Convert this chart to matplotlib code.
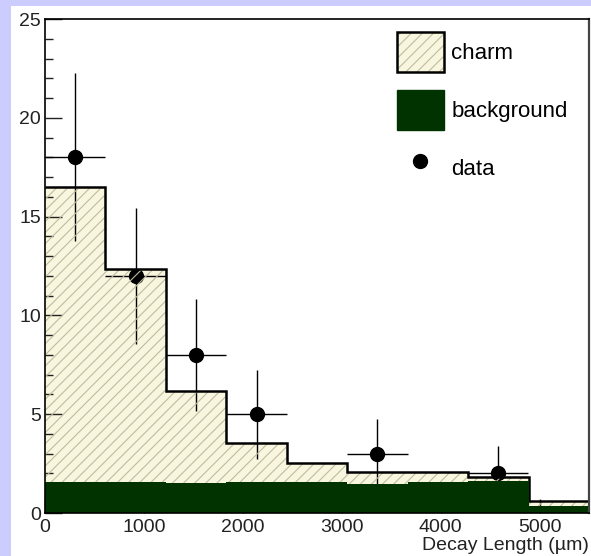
import numpy as np
import matplotlib.pyplot as plt
from matplotlib.patches import Patch, Rectangle
from matplotlib.lines import Line2D
from matplotlib.legend_handler import HandlerTuple

plt.rcParams['font.family'] = ['Liberation Sans', 'DejaVu Sans']
plt.rcParams['hatch.linewidth'] = 0.8

# histogram binning (9 bins over 0-5500 um)
edges = np.linspace(0, 5500, 10)
# stacked contributions
background = np.array([1.55, 1.55, 1.50, 1.55, 1.55, 1.45, 1.55, 1.63, 0.35])
charm = np.array([14.95, 10.80, 4.65, 2.00, 1.00, 0.65, 0.50, 0.20, 0.25])

# data points
data_x = [305, 916, 1528, 2139, 3361, 4583]
data_y = [18, 12, 8, 5, 3, 2]
data_yerr = [4.25, 3.45, 2.85, 2.25, 1.75, 1.40]
data_xerr = [305, 305, 305, 305, 305, 305]

total = background + charm
hatch_col = '#bebca0'
charm_col = '#f8f6de'
bkg_col = '#003300'

fig = plt.figure(figsize=(5.91, 5.56), dpi=100, facecolor='#ccccff')
# white pad like the ROOT canvas
fig.patches.append(Rectangle((11/591, 0), 1, 1 - 6/556, transform=fig.transFigure,
                             facecolor='white', edgecolor='none', zorder=-5))
ax = fig.add_axes([45/591, 43/556, 544/591, 494/556])
ax.set_facecolor('white')

ax.stairs(total, edges, fill=True, color=charm_col, zorder=1)
ax.errorbar(data_x, data_y, yerr=data_yerr, xerr=data_xerr, fmt='o', color='black',
            ms=10, elinewidth=1.0, capsize=0, zorder=2)
ax.stairs(total, edges, fill=True, facecolor='none', edgecolor=hatch_col, lw=0,
          hatch='///', zorder=3)
ax.stairs(total, edges, baseline=None, color='black', lw=1.8, zorder=3.5)
ax.stairs(background, edges, fill=True, color=bkg_col, zorder=4)

ax.set_xlim(0, 5500)
ax.set_ylim(0, 25)
ax.set_xticks(np.arange(0, 5001, 1000))
ax.set_yticks(np.arange(0, 26, 5))
ax.set_yticks(np.arange(0, 26, 1), minor=True)
ax.tick_params(axis='y', which='major', direction='in', length=12, width=1,
               labelsize=14, pad=3, colors='#222222', right=False)
ax.tick_params(axis='y', which='minor', direction='in', length=6, width=1,
               colors='#222222', right=False)
ax.tick_params(axis='x', which='major', direction='in', length=10, width=1,
               labelsize=14, pad=4, colors='#222222', top=False)
ax.yaxis.set_zorder(1.5)
ax.xaxis.set_zorder(1.5)
for s in ax.spines.values():
    s.set_linewidth(1.2)
    s.set_zorder(5)
ax.spines['right'].set_color('#444444')
ax.spines['right'].set_linewidth(1.6)

ax.set_xlabel('Decay Length (\u00b5m)', loc='right', fontsize=14, labelpad=1,
              color='#222222')

# charm swatch: light hatch inside, black border on top
charm_handle = (Patch(facecolor=charm_col, edgecolor=hatch_col, lw=0, hatch='///'),
                Patch(facecolor='none', edgecolor='black', lw=1.8))
handles = [charm_handle,
           Patch(facecolor=bkg_col, edgecolor=bkg_col),
           Line2D([], [], marker='o', ls='none', color='black', ms=10)]
fig.legend(handles, ['charm', 'background', 'data'], loc='upper left',
           bbox_to_anchor=(397/591, 1 - 32/556), frameon=False, fontsize=16,
           handlelength=2.1, handleheight=2.4, labelspacing=0.8,
           handletextpad=0.35, borderpad=0, borderaxespad=0,
           handler_map={tuple: HandlerTuple(ndivide=1, pad=0)})

fig.savefig('out.png', dpi=100, facecolor=fig.get_facecolor())
